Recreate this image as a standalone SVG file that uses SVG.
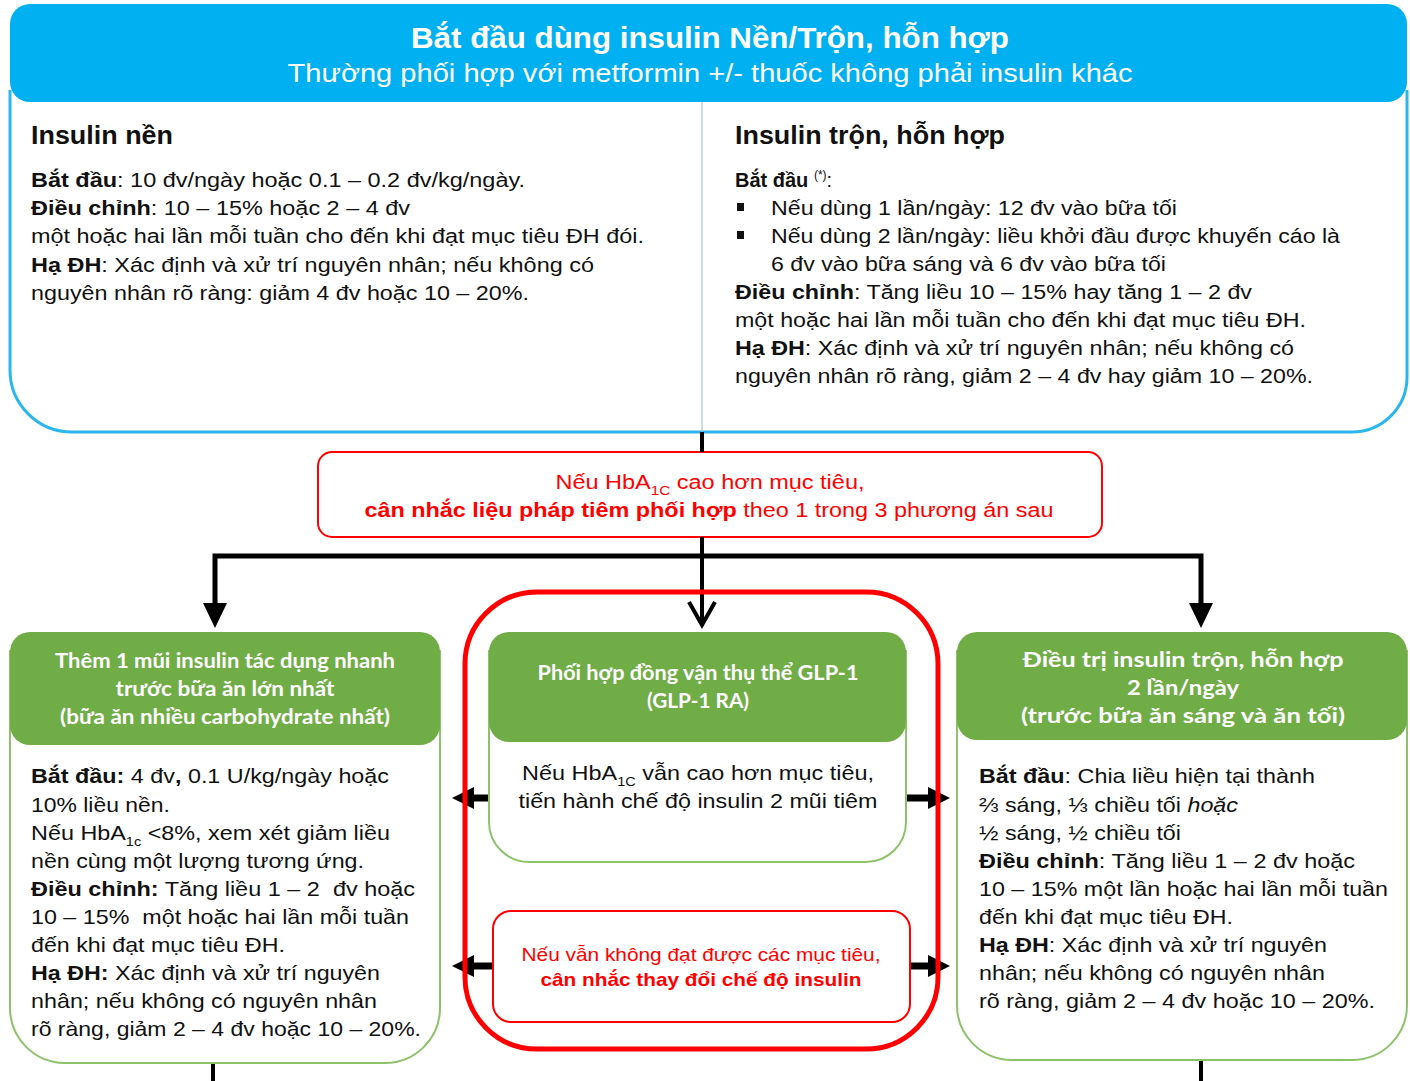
<svg xmlns="http://www.w3.org/2000/svg" width="1410" height="1081" viewBox="0 0 1410 1081">
<style>
.t{font-family:"Liberation Sans",Arial,sans-serif;fill:#111}
.b{font-weight:bold}
.gh{font-family:Lato,"Open Sans","Liberation Sans",sans-serif;font-weight:bold;fill:#fff;font-size:20px}
.bd{font-size:20px}
.bd2{font-size:21px}
.red{fill:#FF0000}
.gbody{fill:#fff;stroke:#8DC26B;stroke-width:2}
.ghead{fill:#70AD47}
.conn{stroke:#000;fill:none}
</style>
<rect width="1410" height="1081" fill="#fff"/>

<g id="top-box">
<path d="M10 90 L10 370 A62 62 0 0 0 72 432 L1352 432 A55 55 0 0 0 1407 377 L1407 90" fill="#fff" stroke="#2BB6EC" stroke-width="3"/>
<rect x="10" y="4" width="1397" height="98" rx="20" fill="#00B0F0"/>
<line x1="702" y1="102" x2="702" y2="432" stroke="#A9C4DE" stroke-width="1.2"/>
<text class="t b" x="710" y="48" text-anchor="middle" font-size="30" style="fill:#fff" textLength="598" lengthAdjust="spacingAndGlyphs">Bắt đầu dùng insulin Nền/Trộn, hỗn hợp</text>
<text class="t" x="710" y="82" text-anchor="middle" font-size="26" style="fill:#fff" textLength="845" lengthAdjust="spacingAndGlyphs">Thường phối hợp với metformin +/- thuốc không phải insulin khác</text>

<text class="t b" x="31" y="144" font-size="25" textLength="142" lengthAdjust="spacingAndGlyphs">Insulin nền</text>
<text class="t bd" x="31" y="187" textLength="494" lengthAdjust="spacingAndGlyphs"><tspan class="b">Bắt đầu</tspan>: 10 đv/ngày hoặc 0.1 – 0.2 đv/kg/ngày.</text>
<text class="t bd" x="31" y="215" textLength="379" lengthAdjust="spacingAndGlyphs"><tspan class="b">Điều chỉnh</tspan>: 10 – 15% hoặc 2 – 4 đv</text>
<text class="t bd" x="31" y="243" textLength="613" lengthAdjust="spacingAndGlyphs">một hoặc hai lần mỗi tuần cho đến khi đạt mục tiêu ĐH đói.</text>
<text class="t bd" x="31" y="272" textLength="563" lengthAdjust="spacingAndGlyphs"><tspan class="b">Hạ ĐH</tspan>: Xác định và xử trí nguyên nhân; nếu không có</text>
<text class="t bd" x="31" y="300" textLength="498" lengthAdjust="spacingAndGlyphs">nguyên nhân rõ ràng: giảm 4 đv hoặc 10 – 20%.</text>

<text class="t b" x="735" y="144" font-size="25" textLength="270" lengthAdjust="spacingAndGlyphs">Insulin trộn, hỗn hợp</text>
<text class="t bd" x="735" y="187"><tspan class="b">Bắt đầu</tspan> <tspan font-size="12" dy="-8">(*)</tspan><tspan dy="8">:</tspan></text>
<rect x="737" y="203" width="7" height="8" fill="#111"/>
<rect x="737" y="231" width="7" height="8" fill="#111"/>
<text class="t bd" x="771" y="215" textLength="406" lengthAdjust="spacingAndGlyphs">Nếu dùng 1 lần/ngày: 12 đv vào bữa tối</text>
<text class="t bd" x="771" y="243" textLength="569" lengthAdjust="spacingAndGlyphs">Nếu dùng 2 lần/ngày: liều khởi đầu được khuyến cáo là</text>
<text class="t bd" x="771" y="271" textLength="395" lengthAdjust="spacingAndGlyphs">6 đv vào bữa sáng và 6 đv vào bữa tối</text>
<text class="t bd" x="735" y="299" textLength="517" lengthAdjust="spacingAndGlyphs"><tspan class="b">Điều chỉnh</tspan>: Tăng liều 10 – 15% hay tăng 1 – 2 đv</text>
<text class="t bd" x="735" y="327" textLength="571" lengthAdjust="spacingAndGlyphs">một hoặc hai lần mỗi tuần cho đến khi đạt mục tiêu ĐH.</text>
<text class="t bd" x="735" y="355" textLength="559" lengthAdjust="spacingAndGlyphs"><tspan class="b">Hạ ĐH</tspan>: Xác định và xử trí nguyên nhân; nếu không có</text>
<text class="t bd" x="735" y="383" textLength="578" lengthAdjust="spacingAndGlyphs">nguyên nhân rõ ràng, giảm 2 – 4 đv hay giảm 10 – 20%.</text>
</g>

<g id="hba1c-box">
<rect x="318" y="452" width="784" height="85" rx="14" fill="#fff" stroke="#FF0000" stroke-width="2"/>
<text class="t bd red" x="710" y="489" text-anchor="middle" textLength="309" lengthAdjust="spacingAndGlyphs">Nếu HbA<tspan font-size="13" dy="6">1C</tspan><tspan dy="-6"> cao hơn mục tiêu,</tspan></text>
<text class="t bd red" x="709" y="517" text-anchor="middle" textLength="689" lengthAdjust="spacingAndGlyphs"><tspan class="b">cân nhắc liệu pháp tiêm phối hợp</tspan> theo 1 trong 3 phương án sau</text>
</g>

<g id="connectors">
<line class="conn" x1="702" y1="432" x2="702" y2="452" stroke-width="4"/>
<line class="conn" x1="702" y1="537" x2="702" y2="624" stroke-width="4"/>
<polyline class="conn" points="689,602 702,625 715,602" stroke-width="4"/>
<polyline class="conn" points="215,604 215,556 1201,556 1201,604" stroke-width="5"/>
<polygon points="203,603 227,603 215,628" fill="#000"/>
<polygon points="1189,603 1213,603 1201,628" fill="#000"/>
<line class="conn" x1="489" y1="798" x2="470" y2="798" stroke-width="7"/>
<polygon points="452,798 474,787 474,809" fill="#000"/>
<line class="conn" x1="906" y1="798" x2="930" y2="798" stroke-width="7"/>
<polygon points="950,798 928,787 928,809" fill="#000"/>
<line class="conn" x1="493" y1="966" x2="470" y2="966" stroke-width="7"/>
<polygon points="452,966 474,955 474,977" fill="#000"/>
<line class="conn" x1="910" y1="966" x2="930" y2="966" stroke-width="7"/>
<polygon points="950,966 928,955 928,977" fill="#000"/>
<line class="conn" x1="213" y1="1063" x2="213" y2="1081" stroke-width="4"/>
<line class="conn" x1="1201" y1="1060" x2="1201" y2="1081" stroke-width="4"/>
</g>

<g id="left-box">
<path class="gbody" d="M10 650 L10 1008 A55 55 0 0 0 65 1063 L385 1063 A55 55 0 0 0 440 1008 L440 650"/>
<rect class="ghead" x="10" y="632" width="430" height="113" rx="20"/>
<text class="gh" x="225" y="668" text-anchor="middle" textLength="340" lengthAdjust="spacingAndGlyphs">Thêm 1 mũi insulin tác dụng nhanh</text>
<text class="gh" x="225" y="696" text-anchor="middle" textLength="219" lengthAdjust="spacingAndGlyphs">trước bữa ăn lớn nhất</text>
<text class="gh" x="225" y="724" text-anchor="middle" textLength="330" lengthAdjust="spacingAndGlyphs">(bữa ăn nhiều carbohydrate nhất)</text>
<text class="t bd2" x="31" y="783" textLength="358" lengthAdjust="spacingAndGlyphs"><tspan class="b">Bắt đầu:</tspan> 4 đv<tspan class="b">,</tspan> 0.1 U/kg/ngày hoặc</text>
<text class="t bd2" x="31" y="812" textLength="139" lengthAdjust="spacingAndGlyphs">10% liều nền.</text>
<text class="t bd2" x="31" y="840" textLength="359" lengthAdjust="spacingAndGlyphs">Nếu HbA<tspan font-size="13" dy="6">1c</tspan><tspan dy="-6"> &lt;8%, xem xét giảm liều</tspan></text>
<text class="t bd2" x="31" y="868" textLength="333" lengthAdjust="spacingAndGlyphs">nền cùng một lượng tương ứng.</text>
<text class="t bd2" x="31" y="896" textLength="384" lengthAdjust="spacingAndGlyphs" xml:space="preserve"><tspan class="b">Điều chỉnh:</tspan> Tăng liều 1 – 2  đv hoặc</text>
<text class="t bd2" x="31" y="924" textLength="378" lengthAdjust="spacingAndGlyphs" xml:space="preserve">10 – 15%  một hoặc hai lần mỗi tuần</text>
<text class="t bd2" x="31" y="952" textLength="254" lengthAdjust="spacingAndGlyphs">đến khi đạt mục tiêu ĐH.</text>
<text class="t bd2" x="31" y="980" textLength="349" lengthAdjust="spacingAndGlyphs"><tspan class="b">Hạ ĐH:</tspan> Xác định và xử trí nguyên</text>
<text class="t bd2" x="31" y="1008" textLength="346" lengthAdjust="spacingAndGlyphs">nhân; nếu không có nguyên nhân</text>
<text class="t bd2" x="31" y="1036" textLength="390" lengthAdjust="spacingAndGlyphs">rõ ràng, giảm 2 – 4 đv hoặc 10 – 20%.</text>
</g>

<g id="middle-box">
<path class="gbody" d="M489 650 L489 822 A40 40 0 0 0 529 862 L866 862 A40 40 0 0 0 906 822 L906 650"/>
<rect class="ghead" x="489" y="632" width="417" height="110" rx="20"/>
<text class="gh" x="698" y="680" text-anchor="middle" font-size="19" textLength="321" lengthAdjust="spacingAndGlyphs">Phối hợp đồng vận thụ thể GLP-1</text>
<text class="gh" x="698" y="708" text-anchor="middle" font-size="19" textLength="102" lengthAdjust="spacingAndGlyphs">(GLP-1 RA)</text>
<text class="t bd2" x="698" y="780" text-anchor="middle" textLength="352" lengthAdjust="spacingAndGlyphs">Nếu HbA<tspan font-size="13" dy="6">1C</tspan><tspan dy="-6"> vẫn cao hơn mục tiêu,</tspan></text>
<text class="t bd2" x="698" y="808" text-anchor="middle" textLength="359" lengthAdjust="spacingAndGlyphs">tiến hành chế độ insulin 2 mũi tiêm</text>
</g>

<g id="change-box">
<rect x="493" y="911" width="417" height="111" rx="18" fill="#fff" stroke="#FF0000" stroke-width="2"/>
<text class="t red" x="701" y="961" text-anchor="middle" font-size="19" textLength="359" lengthAdjust="spacingAndGlyphs">Nếu vẫn không đạt được các mục tiêu,</text>
<text class="t b red" x="701" y="986" text-anchor="middle" font-size="19" textLength="321" lengthAdjust="spacingAndGlyphs">cân nhắc thay đổi chế độ insulin</text>
</g>

<g id="right-box">
<path class="gbody" d="M957 650 L957 1005 A55 55 0 0 0 1012 1060 L1352 1060 A55 55 0 0 0 1407 1005 L1407 650"/>
<rect class="ghead" x="957" y="632" width="450" height="108" rx="20"/>
<text class="gh" x="1183" y="667" text-anchor="middle" font-size="21" textLength="321" lengthAdjust="spacingAndGlyphs">Điều trị insulin trộn, hỗn hợp</text>
<text class="gh" x="1183" y="695" text-anchor="middle" font-size="21" textLength="112" lengthAdjust="spacingAndGlyphs">2 lần/ngày</text>
<text class="gh" x="1183" y="723" text-anchor="middle" font-size="21" textLength="324" lengthAdjust="spacingAndGlyphs">(trước bữa ăn sáng và ăn tối)</text>
<text class="t bd2" x="979" y="783" textLength="336" lengthAdjust="spacingAndGlyphs"><tspan class="b">Bắt đầu</tspan>: Chia liều hiện tại thành</text>
<text class="t bd2" x="979" y="812" textLength="259" lengthAdjust="spacingAndGlyphs">⅔ sáng, ⅓ chiều tối <tspan font-style="italic">hoặc</tspan></text>
<text class="t bd2" x="979" y="840" textLength="202" lengthAdjust="spacingAndGlyphs">½ sáng, ½ chiều tối</text>
<text class="t bd2" x="979" y="868" textLength="376" lengthAdjust="spacingAndGlyphs"><tspan class="b">Điều chỉnh</tspan>: Tăng liều 1 – 2 đv hoặc</text>
<text class="t bd2" x="979" y="896" textLength="409" lengthAdjust="spacingAndGlyphs">10 – 15% một lần hoặc hai lần mỗi tuần</text>
<text class="t bd2" x="979" y="924" textLength="254" lengthAdjust="spacingAndGlyphs">đến khi đạt mục tiêu ĐH.</text>
<text class="t bd2" x="979" y="952" textLength="348" lengthAdjust="spacingAndGlyphs"><tspan class="b">Hạ ĐH</tspan>: Xác định và xử trí nguyên</text>
<text class="t bd2" x="979" y="980" textLength="346" lengthAdjust="spacingAndGlyphs">nhân; nếu không có nguyên nhân</text>
<text class="t bd2" x="979" y="1008" textLength="396" lengthAdjust="spacingAndGlyphs">rõ ràng, giảm 2 – 4 đv hoặc 10 – 20%.</text>
</g>

<g id="glp1-frame">
<rect x="465" y="592" width="473" height="457" rx="72" fill="none" stroke="#FF0000" stroke-width="5"/>
</g>
</svg>
